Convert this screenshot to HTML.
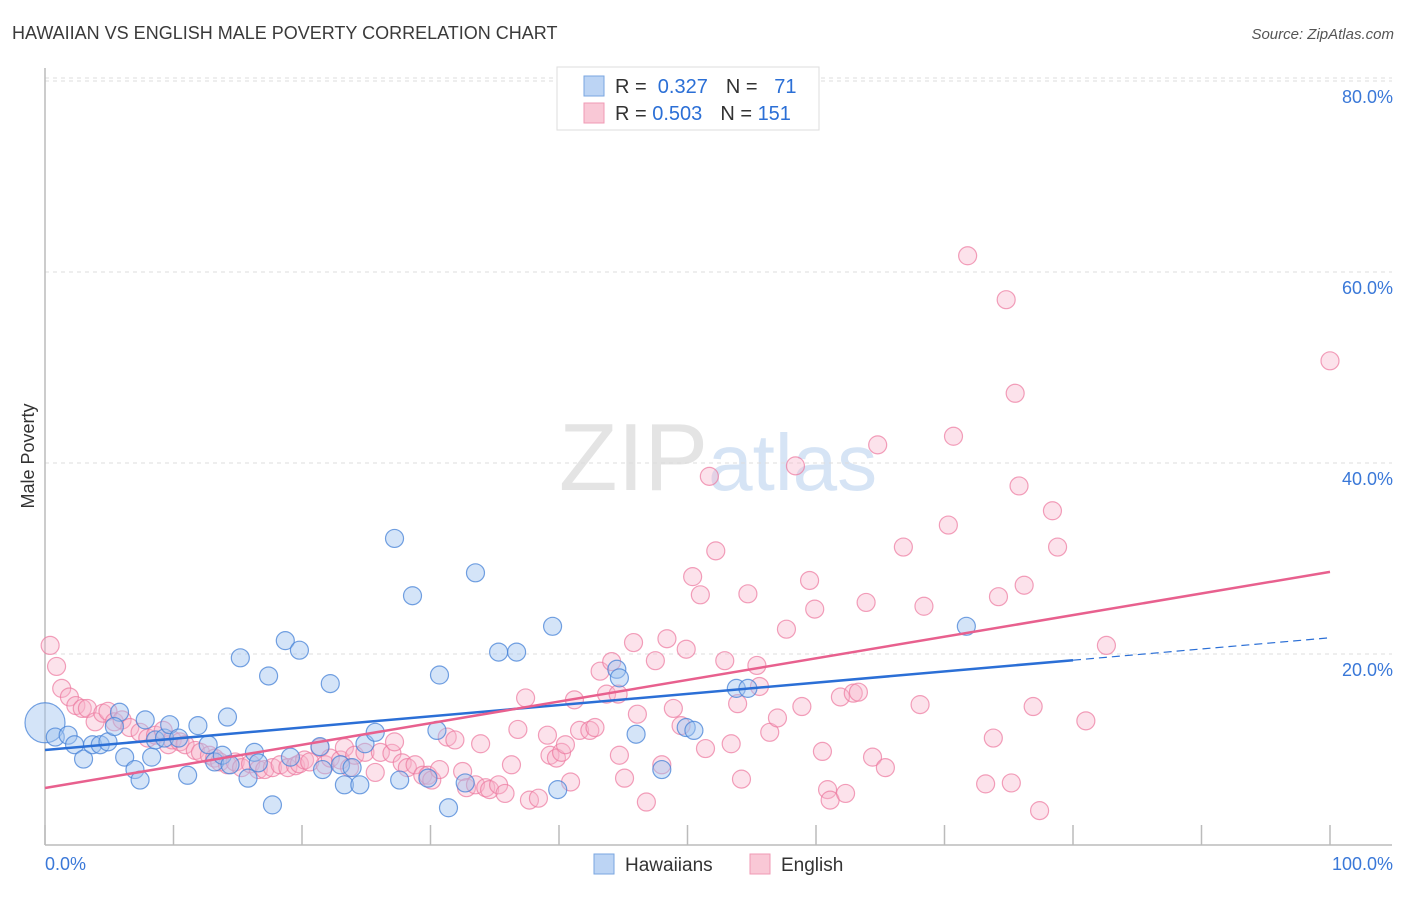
<!DOCTYPE html>
<html><head><meta charset="utf-8"><style>
body{margin:0;background:#fff;font-family:"Liberation Sans",sans-serif}
svg text{font-family:"Liberation Sans",sans-serif}
</style></head><body>
<svg id="chart" width="1406" height="892" viewBox="0 0 1406 892" xmlns="http://www.w3.org/2000/svg">
<text x="12" y="39" font-size="18" fill="#3a3a3a">HAWAIIAN VS ENGLISH MALE POVERTY CORRELATION CHART</text>
<text x="1394" y="39" font-size="15" fill="#555" text-anchor="end" font-style="italic">Source: ZipAtlas.com</text>
<text x="718" y="490" font-size="96" text-anchor="middle" fill="#e4e4e4" font-family="Liberation Serif">ZIP<tspan fill="#d6e4f5" font-family="Liberation Sans" font-size="80">atlas</tspan></text>
<text transform="translate(34,456) rotate(-90)" font-size="18" fill="#333" text-anchor="middle">Male Poverty</text>
<g id="grid"></g>
<g id="axes"></g>
<g id="pts"></g>
<g id="lines"></g>
<g>
<rect x="557" y="67" width="262" height="63" fill="#fff" stroke="#ddd"/>
<rect x="584" y="76" width="20" height="20" fill="#bcd4f4" stroke="#7aa6e0"/>
<rect x="584" y="103" width="20" height="20" fill="#f9c8d6" stroke="#f09ab4"/>
<text x="615" y="93" font-size="20" fill="#333">R = <tspan fill="#2b6fd6">&#160;0.327</tspan><tspan dx="18">N = </tspan><tspan fill="#2b6fd6">&#160;&#160;71</tspan></text>
<text x="615" y="120" font-size="20" fill="#333">R = <tspan fill="#2b6fd6">0.503</tspan><tspan dx="18">N = </tspan><tspan fill="#2b6fd6">151</tspan></text>
</g>
<g>
<rect x="594" y="854" width="20" height="20" fill="#bcd4f4" stroke="#7aa6e0"/>
<text x="625" y="871" font-size="19" fill="#333">Hawaiians</text>
<rect x="750" y="854" width="20" height="20" fill="#f9c8d6" stroke="#f09ab4"/>
<text x="781" y="871" font-size="19" fill="#333">English</text>
</g>
</svg>
<script>
const hawX=[0,0.8,1.8,2.3,3.0,3.7,4.3,4.9,5.8,5.4,6.2,7.0,7.4,7.8,8.3,8.6,9.3,9.7,10.4,11.1,11.9,12.7,13.2,13.8,14.2,14.4,15.2,15.8,16.3,16.6,17.4,17.7,18.7,19.1,19.8,21.4,21.6,22.2,23.0,23.3,23.9,24.5,24.9,25.7,27.2,27.6,28.6,29.8,30.5,30.7,31.4,32.7,33.5,35.3,36.7,39.5,39.9,44.5,44.7,46.0,48.0,49.9,50.5,53.8,54.7,71.7];
const hawY=[12.8,11.3,11.5,10.5,9.0,10.5,10.5,10.8,13.9,12.4,9.2,7.9,6.8,13.1,9.2,11.0,11.2,12.6,11.2,7.3,12.5,10.5,8.7,9.4,13.4,8.4,19.6,7.0,9.7,8.6,17.7,4.2,21.4,9.2,20.4,10.3,7.9,16.9,8.4,6.3,8.1,6.3,10.6,11.8,32.1,6.8,26.1,7.0,12.0,17.8,3.9,6.5,28.5,20.2,20.2,22.9,5.8,18.4,17.5,11.6,7.9,12.3,12.0,16.4,16.4,22.9];
const engX=[0.4,0.9,1.3,1.9,2.4,2.9,3.3,3.9,4.5,4.9,5.4,6.0,6.6,7.4,8.0,8.6,9.2,9.6,9.9,10.5,10.9,11.7,12.1,12.8,13.2,13.6,14.2,14.8,15.3,16.0,16.6,17.1,17.7,18.3,18.9,19.5,19.8,20.2,20.6,21.4,21.8,22.2,23.0,23.3,23.7,24.1,24.9,25.7,26.1,27.0,27.2,27.8,28.2,28.8,29.4,29.8,30.1,30.7,31.3,31.9,32.5,32.8,33.5,33.9,34.3,34.6,35.3,35.8,36.3,36.8,37.4,37.7,38.4,39.1,39.3,39.8,40.2,40.5,40.9,41.2,41.6,42.4,42.8,43.2,43.7,44.1,44.6,44.7,45.1,45.8,46.1,46.8,47.5,48.0,48.4,48.9,49.5,49.9,50.4,51.0,51.4,51.7,52.2,52.9,53.4,53.9,54.2,54.7,55.4,55.6,56.4,57.0,57.7,58.4,58.9,59.5,59.9,60.5,60.9,61.1,61.9,62.3,62.9,63.3,63.9,64.4,64.8,65.4,66.8,68.1,68.4,70.3,70.7,71.8,73.2,73.8,74.2,74.8,75.2,75.5,75.8,76.2,76.9,77.4,78.4,78.8,81.0,82.6,100];
const engY=[20.9,18.7,16.4,15.5,14.6,14.3,14.3,12.9,13.8,14.0,12.9,13.1,12.3,11.8,11.2,11.5,12.0,10.5,11.0,10.8,10.5,9.9,9.7,9.4,9.1,8.7,8.4,8.7,8.1,8.5,7.9,7.9,8.1,8.4,8.1,8.3,8.5,8.9,8.7,10.2,8.4,9.1,8.9,10.2,8.1,9.4,9.7,7.6,9.7,9.6,10.8,8.6,8.1,8.4,7.3,7.3,6.8,7.9,11.3,11.0,7.7,6.0,6.3,10.6,6.0,5.8,6.3,5.4,8.4,12.1,15.4,4.7,4.9,11.5,9.4,9.1,9.7,10.5,6.6,15.2,12.0,12.0,12.3,18.2,15.8,19.2,15.8,9.4,7.0,21.2,13.7,4.5,19.3,8.4,21.6,14.3,12.5,20.5,28.1,26.2,10.1,38.6,30.8,19.3,10.6,14.8,6.9,26.3,18.8,16.6,11.8,13.3,22.6,39.7,14.5,27.7,24.7,9.8,5.8,4.7,15.5,5.4,15.9,16.0,25.4,9.2,41.9,8.1,31.2,14.7,25.0,33.5,42.8,61.7,6.4,11.2,26.0,57.1,6.5,47.3,37.6,27.2,14.5,3.6,35.0,31.2,13.0,20.9,50.7];
const yTicks=[20,40,60,80];
const yTickLabels=["20.0%","40.0%","60.0%","80.0%"];
const xTicks=[0,10,20,30,40,50,60,70,80,90,100];
const hawTrend=[9.95,21.7];
const engTrend=[5.97,28.6];
const hawSolidEnd=80;

const X0=45,X1=1330,Y0=845,PPY=9.55;
const sx=v=>X0+(X1-X0)*v/100, sy=v=>Y0-v*PPY;
const NS="http://www.w3.org/2000/svg";
function mk(tag,attrs,parent){const e=document.createElementNS(NS,tag);for(const k in attrs)e.setAttribute(k,attrs[k]);parent.appendChild(e);return e;}
const grid=document.getElementById('grid'),axes=document.getElementById('axes'),pts=document.getElementById('pts'),lines=document.getElementById('lines');
yTicks.forEach((t,i)=>{
  const l=mk('line',{x1:X0,x2:1392,y1:sy(t),y2:sy(t),stroke:'#ddd','stroke-dasharray':'4,4'},grid);
  
  
  const tx=mk('text',{x:1393,y:sy(t)+22,'font-size':18,fill:'#3a78d8','text-anchor':'end'},axes);
  tx.textContent=yTickLabels[i];
  
  
});
const topG=mk('line',{x1:X0,x2:1392,y1:78,y2:78,stroke:'#ddd','stroke-dasharray':'4,4'},grid);


const ya=mk('line',{x1:X0,x2:X0,y1:68,y2:Y0,stroke:'#bbb','stroke-width':1.5},axes);


const xa=mk('line',{x1:X0,x2:1392,y1:Y0,y2:Y0,stroke:'#bbb','stroke-width':1.5},axes);


xTicks.forEach(t=>{
  const l=mk('line',{x1:sx(t),x2:sx(t),y1:Y0,y2:Y0-20,stroke:'#bbb','stroke-width':1.5},axes);
  
  
});
const xl0=mk('text',{x:45,y:870,'font-size':18,fill:'#3a78d8'},axes);xl0.textContent='0.0%';


const xl1=mk('text',{x:1393,y:870,'font-size':18,fill:'#3a78d8','text-anchor':'end'},axes);xl1.textContent='100.0%';


engX.forEach((x,i)=>{
  const c=mk('circle',{cx:sx(x),cy:sy(engY[i]),r:9,fill:'rgba(248,180,202,0.38)',stroke:'rgba(236,120,158,0.7)','stroke-width':1.2},pts);
  
  
});
hawX.forEach((x,i)=>{
  const c=mk('circle',{cx:sx(x),cy:sy(hawY[i]),r:i===0?20:9,fill:'rgba(160,196,240,0.45)',stroke:'rgba(70,130,215,0.75)','stroke-width':1.2},pts);
  
  
});
const hy=v=>hawTrend[0]+(hawTrend[1]-hawTrend[0])*v/100;
const l1=mk('line',{x1:sx(0),y1:sy(hy(0)),x2:sx(hawSolidEnd),y2:sy(hy(hawSolidEnd)),stroke:'#2b6fd6','stroke-width':2.5},lines);


const l2=mk('line',{x1:sx(hawSolidEnd),y1:sy(hy(hawSolidEnd)),x2:sx(100),y2:sy(hy(100)),stroke:'#2b6fd6','stroke-width':1.2,'stroke-dasharray':'8,5'},lines);


const l3=mk('line',{x1:sx(0),y1:sy(engTrend[0]),x2:sx(100),y2:sy(engTrend[1]),stroke:'#e8608e','stroke-width':2.5},lines);


</script>
</body></html>
